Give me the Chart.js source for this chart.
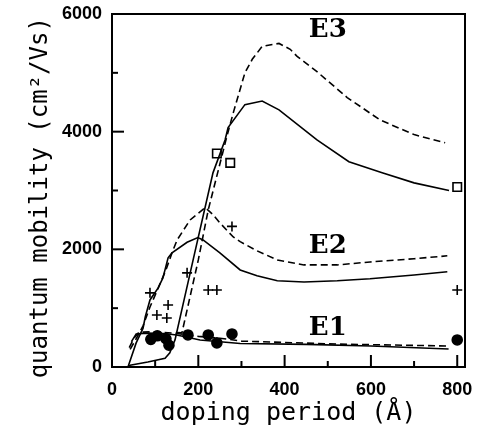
<!DOCTYPE html>
<html>
<head>
<meta charset="utf-8">
<title>Quantum mobility vs doping period</title>
<script src="https://cdn.jsdelivr.net/npm/chart.js@4"></script>
<style>
  html, body { margin:0; padding:0; background:#fff; }
  canvas { display:block; }
</style>
</head>
<body>
<canvas id="chart" width="477" height="437"></canvas>
<script>
// ---- data (doping period in Å, mobility in cm2/Vs) ----
const e3SolidX = [37, 42, 83, 123, 134, 139, 146, 167, 188, 234, 262, 269, 308, 348, 387, 475, 549, 626, 700, 781];
const e3SolidY = [0, 30, 85, 150, 240, 340, 460, 1140, 1820, 3300, 3860, 4070, 4460, 4520, 4370, 3860, 3490, 3300, 3130, 3000];

const e3DashX = [150, 162, 174, 200, 223, 266, 281, 308, 325, 348, 387, 413, 429, 475, 545, 621, 700, 772];
const e3DashY = [585, 580, 970, 1820, 2670, 3915, 4320, 5000, 5230, 5450, 5500, 5400, 5280, 5020, 4580, 4200, 3950, 3810];

const e2SolidX = [37, 56, 72, 77, 88, 107, 118, 130, 139, 174, 199, 211, 250, 297, 336, 383, 445, 522, 598, 700, 777];
const e2SolidY = [0, 410, 660, 850, 1140, 1345, 1515, 1855, 1940, 2120, 2200, 2160, 1940, 1650, 1550, 1465, 1445, 1465, 1500, 1565, 1620];

const e2DashX = [42, 56, 72, 88, 107, 125, 139, 151, 181, 216, 234, 250, 281, 297, 336, 383, 445, 522, 598, 700, 777];
const e2DashY = [300, 480, 700, 1020, 1340, 1650, 1940, 2160, 2500, 2710, 2590, 2450, 2210, 2130, 1975, 1820, 1735, 1735, 1785, 1840, 1890];

const e1SolidX = [45, 56, 80, 120, 150, 204, 297, 450, 600, 780];
const e1SolidY = [430, 560, 575, 570, 545, 460, 400, 385, 357, 306];

const e1DashX = [40, 50, 62, 100, 150, 200, 250, 300, 520, 780];
const e1DashY = [330, 480, 590, 600, 570, 520, 490, 440, 390, 357];

// measured points
const e3PointsX = [243, 274, 800];
const e3PointsY = [3630, 3470, 3060];
const e2PointsX = [88, 104, 127, 130, 174, 223, 243, 278, 800];
const e2PointsY = [1260, 885, 834, 1055, 1600, 1310, 1310, 2390, 1310];
const e1PointsX = [90, 105, 125, 132, 176, 223, 243, 278, 800];
const e1PointsY = [470, 530, 480, 370, 545, 545, 410, 562, 460];

const xTicks = [0, 200, 400, 600, 800];
const yTicks = [0, 2000, 4000, 6000];
const xTickMarks = [100, 200, 300, 400, 500, 600, 700, 800];
const yTickMarks = [1000, 2000, 3000, 4000, 5000];

const bandNames = ['E1', 'E2', 'E3'];
const bandNameX = [500, 500, 500];
const bandNameY = [664, 2060, 5730];

const pts = (xs, ys) => xs.map((v, i) => ({ x: v, y: ys[i] }));

function curve(xs, ys, dashed) {
  return {
    data: pts(xs, ys),
    showLine: true,
    borderColor: '#000',
    borderWidth: 1.6,
    borderDash: dashed ? [7, 4] : [],
    pointRadius: 0,
    tension: 0
  };
}

function marks(xs, ys, style, radius, filled) {
  return {
    data: pts(xs, ys),
    showLine: false,
    pointStyle: style,
    pointRadius: radius,
    pointBorderWidth: 1.6,
    pointBorderColor: '#000',
    pointBackgroundColor: filled ? '#000' : 'rgba(0,0,0,0)'
  };
}

// box frame, inward tick marks and band names
const frame = {
  id: 'frame',
  afterDatasetsDraw(chart) {
    const { ctx, chartArea: a, scales: { x, y } } = chart;
    ctx.save();
    ctx.strokeStyle = '#000';
    ctx.lineWidth = 2;
    ctx.strokeRect(a.left, a.top, a.right - a.left, a.bottom - a.top);

    xTickMarks.forEach(v => {
      const px = x.getPixelForValue(v);
      const len = v % 200 === 0 ? 12 : 6;
      ctx.beginPath();
      ctx.moveTo(px, a.bottom);
      ctx.lineTo(px, a.bottom - len);
      ctx.stroke();
    });
    yTickMarks.forEach(v => {
      const py = y.getPixelForValue(v);
      const len = v % 2000 === 0 ? 12 : 6;
      ctx.beginPath();
      ctx.moveTo(a.left, py);
      ctx.lineTo(a.left + len, py);
      ctx.stroke();
    });

    ctx.fillStyle = '#000';
    ctx.font = 'bold 26px "DejaVu Serif", serif';
    ctx.textAlign = 'center';
    ctx.textBaseline = 'middle';
    bandNames.forEach((t, i) => {
      ctx.fillText(t, x.getPixelForValue(bandNameX[i]), y.getPixelForValue(bandNameY[i]));
    });
    ctx.restore();
  }
};

const tickFont = { family: '"Liberation Sans Narrow", "Liberation Sans", Arial, sans-serif', size: 18, weight: 'bold' };
const plain = v => String(v);

new Chart(document.getElementById('chart'), {
  type: 'scatter',
  data: {
    datasets: [
      curve(e3SolidX, e3SolidY, false),
      curve(e3DashX, e3DashY, true),
      curve(e2SolidX, e2SolidY, false),
      curve(e2DashX, e2DashY, true),
      curve(e1SolidX, e1SolidY, false),
      curve(e1DashX, e1DashY, true),
      marks(e3PointsX, e3PointsY, 'rect', 6, false),
      marks(e2PointsX, e2PointsY, 'cross', 5, false),
      marks(e1PointsX, e1PointsY, 'circle', 5, true)
    ]
  },
  options: {
    responsive: false,
    animation: false,
    layout: { padding: { top: 14, right: 12, left: 0, bottom: 0 } },
    plugins: { legend: { display: false }, tooltip: { enabled: false } },
    scales: {
      x: {
        type: 'linear',
        min: 0,
        max: 818,
        grid: { display: false, drawTicks: false },
        border: { display: false },
        afterBuildTicks: s => { s.ticks = xTicks.map(v => ({ value: v })); },
        afterFit: s => { s.height = 70; s.paddingLeft = 0; s.paddingRight = 0; },
        ticks: { color: '#000', font: tickFont, padding: 12, maxRotation: 0, callback: plain },
        title: { display: true, text: 'doping period (Å)', color: '#000', font: { family: '"DejaVu Sans Mono", monospace', size: 25 }, padding: { top: 0, bottom: 9 } }
      },
      y: {
        type: 'linear',
        min: 0,
        max: 6000,
        grid: { display: false, drawTicks: false },
        border: { display: false },
        afterBuildTicks: s => { s.ticks = yTicks.map(v => ({ value: v })); },
        afterFit: s => { s.width = 112; s.paddingTop = 0; s.paddingBottom = 0; },
        ticks: { color: '#000', font: tickFont, padding: 10, callback: plain },
        title: { display: true, text: 'quantum mobility (cm²/Vs) ', color: '#000', font: { family: '"DejaVu Sans Mono", monospace', size: 24 }, padding: { top: 26, bottom: 0 } }
      }
    }
  },
  plugins: [frame]
});
</script>
</body>
</html>
